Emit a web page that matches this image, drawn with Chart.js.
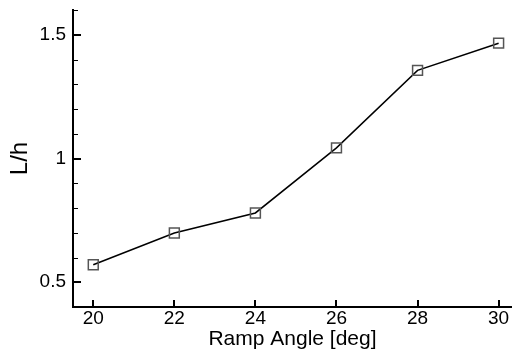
<html>
  <body style="margin:0;overflow:hidden;background:#fff">
    <script src="https://cdn.jsdelivr.net/npm/chart.js@4/dist/chart.umd.min.js"></script>
    <div style="width:512px;height:353px"><canvas id="myChart" width="512" height="353"></canvas></div>

    <script>
      // data
      let rampAngle = [20, 22, 24, 26, 28, 30];
      let lOverH = [0.571, 0.699, 0.780, 1.043, 1.356, 1.466];
      let xTicks = [20, 22, 24, 26, 28, 30];
      let yTicks = [0.5, 1, 1.5];
      let yMinor = [0.4, 0.5, 0.6, 0.7, 0.8, 0.9, 1.0, 1.1, 1.2, 1.3, 1.4, 1.5, 1.6];

      // ticks pointing into the plot
      const inwardTicks = {
        id: 'inwardTicks',
        afterDraw(chart) {
          let ctx = chart.ctx;
          let x = chart.scales.x, y = chart.scales.y;
          let a = chart.chartArea;
          ctx.save();
          ctx.strokeStyle = '#000';
          ctx.lineWidth = 1;
          yMinor.forEach(v => {
            let py = Math.round(y.getPixelForValue(v)) + 0.5;
            ctx.beginPath(); ctx.moveTo(a.left, py); ctx.lineTo(a.left + 5, py); ctx.stroke();
          });
          ctx.lineWidth = 2;
          yTicks.forEach(v => {
            let py = Math.round(y.getPixelForValue(v));
            ctx.beginPath(); ctx.moveTo(a.left, py); ctx.lineTo(a.left + 8, py); ctx.stroke();
          });
          xTicks.forEach(v => {
            let px = Math.round(x.getPixelForValue(v));
            ctx.beginPath(); ctx.moveTo(px, a.bottom); ctx.lineTo(px, a.bottom - 7); ctx.stroke();
          });
          ctx.restore();
        }
      };

      let ctx = document.getElementById('myChart').getContext('2d');
      let myChart = new Chart(ctx, {
        type: 'line',
        data: {
          datasets: [{
            data: rampAngle.map((v, i) => ({ x: v, y: lOverH[i] })),
            borderColor: '#000',
            borderWidth: 1.5,
            pointStyle: 'rect',
            pointRadius: 7,
            pointBorderColor: '#555',
            pointBorderWidth: 1.5,
            pointBackgroundColor: 'rgba(0,0,0,0)',
            tension: 0
          }]
        },
        options: {
          responsive: false,
          animation: false,
          layout: { autoPadding: false, padding: { top: 10, right: 0, left: 0, bottom: 0 } },
          plugins: { legend: { display: false }, tooltip: { enabled: false } },
          scales: {
            x: {
              type: 'linear',
              min: 19.5,
              max: 30.33,
              afterBuildTicks: s => { s.ticks = xTicks.map(v => ({ value: v })); },
              afterFit: s => { s.height = 46; s.paddingLeft = 0; s.paddingRight = 0; },
              grid: { display: false, drawTicks: false },
              border: { display: true, color: '#000', width: 2 },
              ticks: { color: '#000', padding: 0, maxRotation: 0, font: { family: 'Liberation Sans', size: 19 } },
              title: { display: true, text: 'Ramp Angle [deg]', color: '#000', padding: { top: 0, bottom: 1 }, font: { family: 'Liberation Sans', size: 21 } }
            },
            y: {
              min: 0.4,
              max: 1.6,
              afterBuildTicks: s => { s.ticks = yTicks.map(v => ({ value: v })); },
              afterFit: s => { s.width = 73; s.paddingTop = 0; s.paddingBottom = 0; },
              grid: { display: false, drawTicks: false },
              border: { display: true, color: '#000', width: 2 },
              ticks: { color: '#000', padding: 7, font: { family: 'Liberation Sans', size: 19 }, callback: v => String(v) },
              title: { display: true, text: 'L/h', color: '#000', padding: { top: 6, bottom: 0 }, font: { family: 'Liberation Sans', size: 24 } }
            }
          }
        },
        plugins: [inwardTicks]
      });
    </script>
  </body>
</html>
